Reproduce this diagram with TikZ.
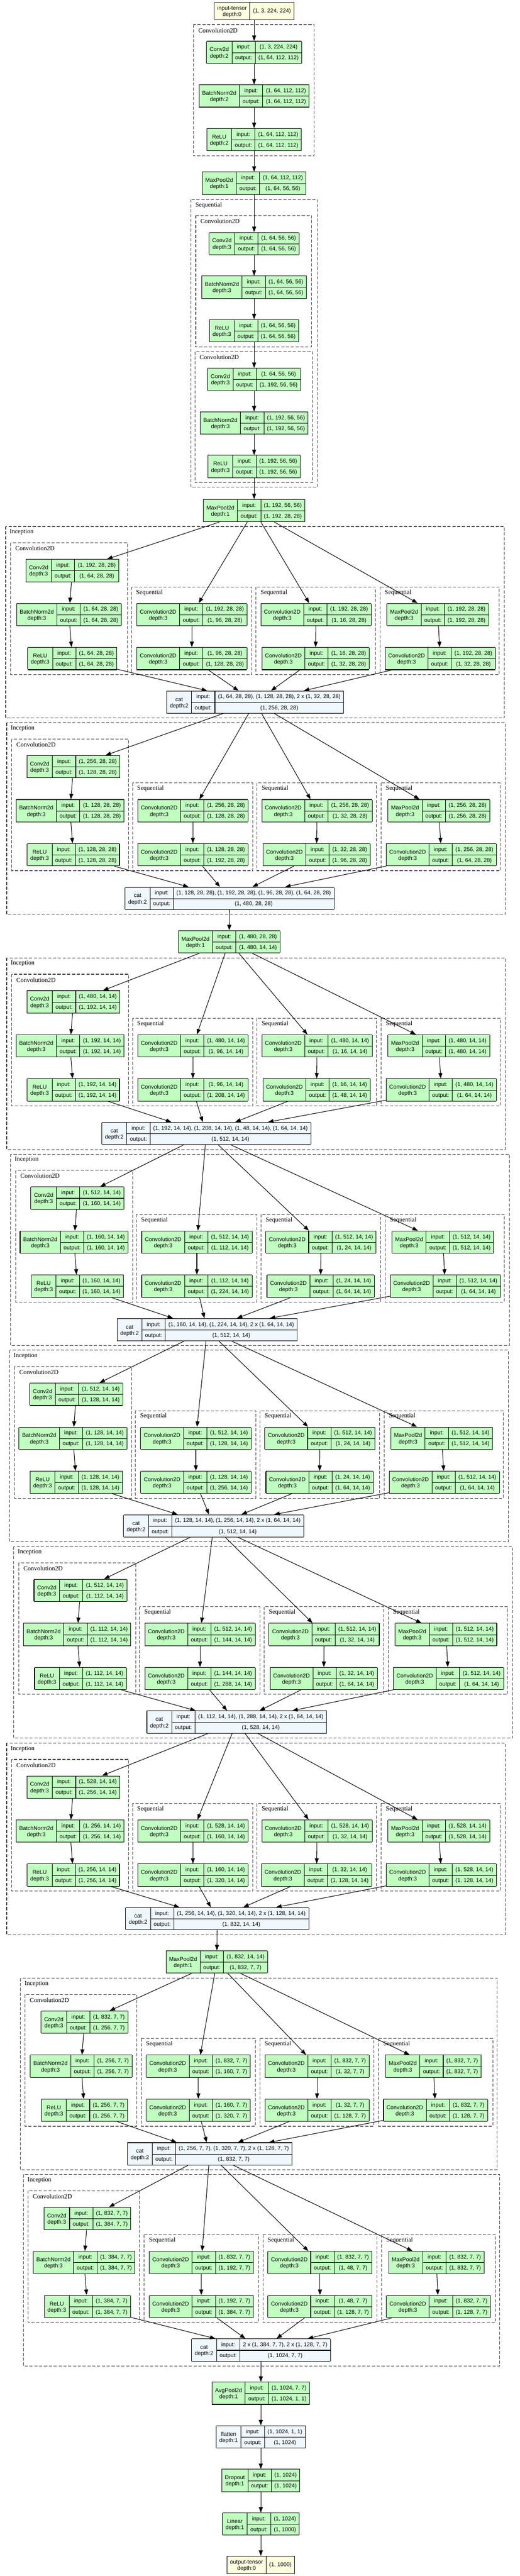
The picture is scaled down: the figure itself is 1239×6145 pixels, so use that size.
\documentclass[tikz,border=0pt]{standalone}
\usepackage{fontspec}
\setmainfont{Liberation Sans}
\newfontfamily\clusterfont{Liberation Serif}
\usetikzlibrary{arrows.meta}

\definecolor{layergreen}{HTML}{C1FFC1}
\definecolor{funcblue}{HTML}{F0F8FF}
\definecolor{tensoryellow}{HTML}{FFFFE0}

\setlength{\tabcolsep}{7.5pt}
\setlength{\arrayrulewidth}{1.3pt}

\tikzset{
  layerbox/.style={inner sep=0pt, outer sep=0pt, font=\fontsize{13.3}{15}\selectfont},
  flow/.style={line width=1.3pt, -{Triangle[length=13pt,width=9.5pt]}},
  clusterline/.style={line width=1.3pt, black!75, dash pattern=on 7.5pt off 4pt},
  framelabel/.style={anchor=west, inner sep=0pt, font=\clusterfont\fontsize{15}{17}\selectfont}
}

\newcommand{\rowstrut}{\rule[-8.5pt]{0pt}{26pt}}

% layer box: [fill]{name}{x,y}{label}{depth}{input}{output}
\newcommand{\layer}[7][layergreen]{%
  \node[layerbox, fill=#1] (#2) at (#3) {%
    \begin{tabular}{|c|c|c|}\hline
      \raisebox{-21.3pt}[0pt][0pt]{\begin{tabular}[b]{@{}c@{}}#4\\depth:#5\end{tabular}} & input:\rowstrut & #6\\ \cline{2-3}
      & output:\rowstrut & #7\\ \hline
    \end{tabular}};%
}

% tensor box: {name}{x,y}{label}{shape}
\newcommand{\tensor}[4]{%
  \node[layerbox, fill=tensoryellow] (#1) at (#2) {%
    \begin{tabular}{|c|c|}\hline
      \raisebox{-8.65pt}[0pt][0pt]{\begin{tabular}[b]{@{}c@{}}#3\\depth:0\end{tabular}}\rule[-16.7pt]{0pt}{40.4pt} & #4\\ \hline
    \end{tabular}};%
}

% column positions of the two inception layouts
\newcommand{\setwide}{%
  \def\fL{16}\def\fR{1205}\def\cfL{28}\def\cfR{307}%
  \def\xA{175}\def\xB{167}%
  \def\sAL{316}\def\sAR{603}\def\sBL{613}\def\sBR{898}\def\sCL{909}\def\sCR{1193}%
  \def\xS{460}\def\xTa{756}\def\xTb{755}\def\xUa{1046.5}\def\xUb{1052.5}}
\newcommand{\setnarrow}{%
  \def\fL{49}\def\fR{1185}\def\cfL{60}\def\cfR{326}%
  \def\xA{201.5}\def\xB{193.5}%
  \def\sAL{337}\def\sAR{609}\def\sBL{620}\def\sBR{892}\def\sCL{903}\def\sCR{1175}%
  \def\xS{473}\def\xTa{756}\def\xTb{756}\def\xUa{1033.5}\def\xUb{1038.5}}

\def\readch#1/#2/#3/#4/#5/#6/#7/#8\relax{%
  \def\chIn{#1}\def\chA{#2}\def\chBr{#3}\def\chB{#4}%
  \def\chCr{#5}\def\chC{#6}\def\chP{#7}\def\sz{#8}}

% {id}{top}{shift}{layout}{source}{in/1x1/3r/3/5r/5/pool/size}{cat x}{cat input}{cat output}
\newcommand{\inception}[9]{%
  #4\readch#6\relax
  \def\blkT{#2}\def\blkdx{#3}%
  \draw[clusterline] ({\fL+\blkdx},\blkT) rectangle ({\fR+\blkdx},{\blkT+457});
  \node[framelabel] (#1-lbl) at ({\fL+\blkdx+9.5},{\blkT+13.5}) {Inception};
  \draw[clusterline] ({\cfL+\blkdx},{\blkT+39}) rectangle ({\cfR+\blkdx},{\blkT+353});
  \node[framelabel] (#1-clbl) at ({\cfL+\blkdx+11},{\blkT+52.5}) {Convolution2D};
  \draw[clusterline] ({\sAL+\blkdx},{\blkT+144}) rectangle ({\sAR+\blkdx},{\blkT+353});
  \node[framelabel] (#1-albl) at ({\sAL+\blkdx+11},{\blkT+157.5}) {Sequential};
  \draw[clusterline] ({\sBL+\blkdx},{\blkT+144}) rectangle ({\sBR+\blkdx},{\blkT+353});
  \node[framelabel] (#1-blbl) at ({\sBL+\blkdx+11},{\blkT+157.5}) {Sequential};
  \draw[clusterline] ({\sCL+\blkdx},{\blkT+144}) rectangle ({\sCR+\blkdx},{\blkT+353});
  \node[framelabel] (#1-cclbl) at ({\sCL+\blkdx+11},{\blkT+157.5}) {Sequential};
  \layer{#1-conv}{{\xA+\blkdx},{\blkT+105}}{Conv2d}{3}{(1, \chIn, \sz, \sz)}{(1, \chA, \sz, \sz)}
  \layer{#1-bn}{{\xB+\blkdx},{\blkT+210}}{BatchNorm2d}{3}{(1, \chA, \sz, \sz)}{(1, \chA, \sz, \sz)}
  \layer{#1-relu}{{\xA+\blkdx},{\blkT+315}}{ReLU}{3}{(1, \chA, \sz, \sz)}{(1, \chA, \sz, \sz)}
  \layer{#1-s1a}{{\xS+\blkdx},{\blkT+210}}{Convolution2D}{3}{(1, \chIn, \sz, \sz)}{(1, \chBr, \sz, \sz)}
  \layer{#1-s1b}{{\xS+\blkdx},{\blkT+315}}{Convolution2D}{3}{(1, \chBr, \sz, \sz)}{(1, \chB, \sz, \sz)}
  \layer{#1-s2a}{{\xTa+\blkdx},{\blkT+210}}{Convolution2D}{3}{(1, \chIn, \sz, \sz)}{(1, \chCr, \sz, \sz)}
  \layer{#1-s2b}{{\xTb+\blkdx},{\blkT+315}}{Convolution2D}{3}{(1, \chCr, \sz, \sz)}{(1, \chC, \sz, \sz)}
  \layer{#1-pool}{{\xUa+\blkdx},{\blkT+210}}{MaxPool2d}{3}{(1, \chIn, \sz, \sz)}{(1, \chIn, \sz, \sz)}
  \layer{#1-s3b}{{\xUb+\blkdx},{\blkT+315}}{Convolution2D}{3}{(1, \chIn, \sz, \sz)}{(1, \chP, \sz, \sz)}
  \layer[funcblue]{#1-cat}{{#7},{\blkT+419}}{cat}{2}{#8}{(1, #9, \sz, \sz)}
  \foreach \b in {conv, s1a, s2a, pool}
    \draw[flow] (#5) -- (#1-\b);
  \foreach \a/\b in {conv/bn, bn/relu, s1a/s1b, s2a/s2b, pool/s3b}
    \draw[flow] (#1-\a) -- (#1-\b);
  \foreach \a in {relu, s1b, s2b, s3b}
    \draw[flow] (#1-\a) -- (#1-cat);
}

\begin{document}
\begin{tikzpicture}[x=1pt, y=-1pt]
  \fill[white] (0,0) rectangle (1239,6145);
  \useasboundingbox (0,0) rectangle (1239,6145);

  % stem
  \tensor{in}{606,26.5}{input-tensor}{(1, 3, 224, 224)}
  \draw[clusterline] (461,59) rectangle (749,372);
  \node[framelabel] (stem-lbl) at (473,72.5) {Convolution2D};
  \layer{c0a}{606,125}{Conv2d}{2}{(1, 3, 224, 224)}{(1, 64, 112, 112)}
  \layer{c0b}{606,229}{BatchNorm2d}{2}{(1, 64, 112, 112)}{(1, 64, 112, 112)}
  \layer{c0c}{606,333}{ReLU}{2}{(1, 64, 112, 112)}{(1, 64, 112, 112)}
  \layer{mp0}{606,437}{MaxPool2d}{1}{(1, 64, 112, 112)}{(1, 64, 56, 56)}

  \draw[clusterline] (455,476) rectangle (757,1162);
  \node[framelabel] (seq-lbl) at (466,489.5) {Sequential};
  \draw[clusterline] (467,514) rectangle (743,828);
  \node[framelabel] (c1-lbl) at (478,527.5) {Convolution2D};
  \layer{c1a}{606,581}{Conv2d}{3}{(1, 64, 56, 56)}{(1, 64, 56, 56)}
  \layer{c1b}{606,685}{BatchNorm2d}{3}{(1, 64, 56, 56)}{(1, 64, 56, 56)}
  \layer{c1c}{606,789}{ReLU}{3}{(1, 64, 56, 56)}{(1, 64, 56, 56)}
  \draw[clusterline] (465,839) rectangle (745,1151);
  \node[framelabel] (c2-lbl) at (476,852.5) {Convolution2D};
  \layer{c2a}{606,905}{Conv2d}{3}{(1, 64, 56, 56)}{(1, 192, 56, 56)}
  \layer{c2b}{606,1009}{BatchNorm2d}{3}{(1, 192, 56, 56)}{(1, 192, 56, 56)}
  \layer{c2c}{606,1113}{ReLU}{3}{(1, 192, 56, 56)}{(1, 192, 56, 56)}
  \layer{mp1}{606,1218}{MaxPool2d}{1}{(1, 192, 56, 56)}{(1, 192, 28, 28)}

  \foreach \a/\b in {in/c0a, c0a/c0b, c0b/c0c, c0c/mp0, mp0/c1a, c1a/c1b, c1b/c1c, c1c/c2a, c2a/c2b, c2b/c2c, c2c/mp1}
    \draw[flow] (\a) -- (\b);

  % inception blocks
  \inception{i1}{1256}{-2.5}{\setwide}{mp1}{192/64/96/128/16/32/32/28}{608.5}{(1, 64, 28, 28), (1, 128, 28, 28), 2 x (1, 32, 28, 28)}{256}
  \inception{i2}{1724}{0}{\setwide}{i1-cat}{256/128/128/192/32/96/64/28}{547.5}{(1, 128, 28, 28), (1, 192, 28, 28), (1, 96, 28, 28), (1, 64, 28, 28)}{480}
  \layer{mp2}{546.5,2246.5}{MaxPool2d}{1}{(1, 480, 28, 28)}{(1, 480, 14, 14)}
  \draw[flow] (i2-cat) -- (mp2);
  \inception{i3}{2285}{0}{\setwide}{mp2}{480/192/96/208/16/48/64/14}{492}{(1, 192, 14, 14), (1, 208, 14, 14), (1, 48, 14, 14), (1, 64, 14, 14)}{512}
  \inception{i4}{2753}{9.5}{\setwide}{i3-cat}{512/160/112/224/24/64/64/14}{494}{(1, 160, 14, 14), (1, 224, 14, 14), 2 x (1, 64, 14, 14)}{512}
  \inception{i5}{3221}{7}{\setwide}{i4-cat}{512/128/128/256/24/64/64/14}{509.5}{(1, 128, 14, 14), (1, 256, 14, 14), 2 x (1, 64, 14, 14)}{512}
  \inception{i6}{3689}{17}{\setwide}{i5-cat}{512/112/144/288/32/64/64/14}{564.5}{(1, 112, 14, 14), (1, 288, 14, 14), 2 x (1, 64, 14, 14)}{528}
  \inception{i7}{4158}{0}{\setwide}{i6-cat}{528/256/160/320/32/128/128/14}{518}{(1, 256, 14, 14), (1, 320, 14, 14), 2 x (1, 128, 14, 14)}{832}
  \layer{mp3}{517,4680}{MaxPool2d}{1}{(1, 832, 14, 14)}{(1, 832, 7, 7)}
  \draw[flow] (i7-cat) -- (mp3);
  \inception{i8}{4719}{0}{\setnarrow}{mp3}{832/256/160/320/32/128/128/7}{500}{(1, 256, 7, 7), (1, 320, 7, 7), 2 x (1, 128, 7, 7)}{832}
  \inception{i9}{5187}{7}{\setnarrow}{i8-cat}{832/384/192/384/48/128/128/7}{622.5}{2 x (1, 384, 7, 7), 2 x (1, 128, 7, 7)}{1024}

  % head
  \layer{avg}{622,5709}{AvgPool2d}{1}{(1, 1024, 7, 7)}{(1, 1024, 1, 1)}
  \layer[funcblue]{flat}{622,5813}{flatten}{1}{(1, 1024, 1, 1)}{(1, 1024)}
  \layer{drop}{622,5917}{Dropout}{1}{(1, 1024)}{(1, 1024)}
  \layer{fc}{622,6021}{Linear}{1}{(1, 1024)}{(1, 1000)}
  \tensor{out}{622,6118.5}{output-tensor}{(1, 1000)}
  \foreach \a/\b in {i9-cat/avg, avg/flat, flat/drop, drop/fc, fc/out}
    \draw[flow] (\a) -- (\b);
\end{tikzpicture}
\end{document}
